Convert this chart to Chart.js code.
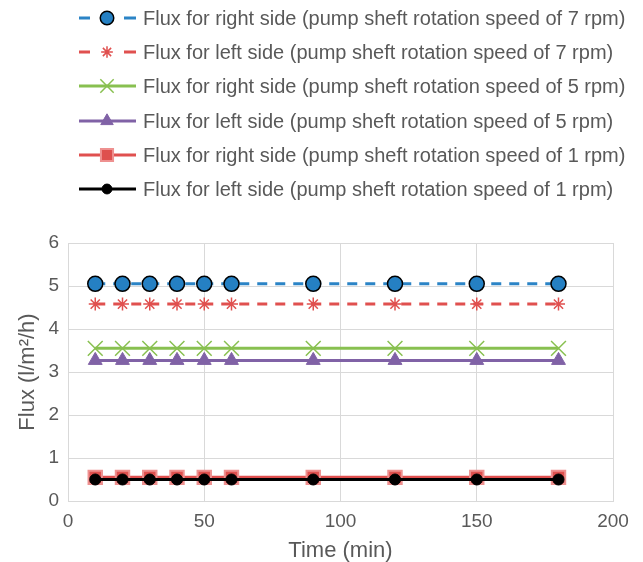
<!DOCTYPE html>
<html><head><meta charset="utf-8">
<script src="https://cdn.jsdelivr.net/npm/chart.js@4/dist/chart.umd.min.js"></script>
<style>html,body{margin:0;padding:0;background:#fff;}#wrap{width:643px;height:562px;}</style>
</head><body><div id="wrap"><canvas id="c" width="643" height="562"></canvas></div>
<script>
const timeMin = [10, 20, 30, 40, 50, 60, 90, 120, 150, 180];
const labels = [
  "Flux for right side (pump sheft rotation speed of 7 rpm)",
  "Flux for left side (pump sheft rotation speed of 7 rpm)",
  "Flux for right side (pump sheft rotation speed of 5 rpm)",
  "Flux for left side (pump sheft rotation speed of 5 rpm)",
  "Flux for right side (pump sheft rotation speed of 1 rpm)",
  "Flux for left side (pump sheft rotation speed of 1 rpm)"
];
const right7 = [5.05, 5.05, 5.05, 5.05, 5.05, 5.05, 5.05, 5.05, 5.05, 5.05];
const left7  = [4.58, 4.58, 4.58, 4.58, 4.58, 4.58, 4.58, 4.58, 4.58, 4.58];
const right5 = [3.55, 3.55, 3.55, 3.55, 3.55, 3.55, 3.55, 3.55, 3.55, 3.55];
const left5  = [3.27, 3.27, 3.27, 3.27, 3.27, 3.27, 3.27, 3.27, 3.27, 3.27];
const right1 = [0.55, 0.55, 0.55, 0.55, 0.55, 0.55, 0.55, 0.55, 0.55, 0.55];
const left1  = [0.50, 0.50, 0.50, 0.50, 0.50, 0.50, 0.50, 0.50, 0.50, 0.50];

const pts = arr => arr.map((v, i) => ({x: timeMin[i], y: v}));
const FONT = "'Liberation Sans', Arial, sans-serif";
const GREY = '#595959';

const datasets = [
  {label: labels[0], data: pts(right7), order: 5, borderColor: '#2B84C6', borderWidth: 3, borderDash: [10, 8],
   pointStyle: 'circle', pointRadius: 7.5, pointBackgroundColor: '#2580C3', pointBorderColor: '#000', pointBorderWidth: 1.5},
  {label: labels[1], data: pts(left7), order: 4, borderColor: '#E0504F', borderWidth: 3, borderDash: [10, 8],
   pointStyle: 'star', pointRadius: 6.5, pointBackgroundColor: '#E0504F', pointBorderColor: '#E0504F', pointBorderWidth: 1.5},
  {label: labels[2], data: pts(right5), order: 3, borderColor: '#88C050', borderWidth: 3,
   pointStyle: 'crossRot', pointRadius: 10.5, pointBackgroundColor: '#88C050', pointBorderColor: '#88C050', pointBorderWidth: 1.5},
  {label: labels[3], data: pts(left5), order: 2, borderColor: '#8062A6', borderWidth: 3,
   pointStyle: 'triangle', pointRadius: 8, pointBackgroundColor: '#8062A6', pointBorderColor: '#8062A6', pointBorderWidth: 1},
  {label: labels[4], data: pts(right1), order: 1, borderColor: '#E0504F', borderWidth: 3,
   pointStyle: 'rect', pointRadius: 9.5, pointBackgroundColor: '#DE504E', pointBorderColor: '#EE9190', pointBorderWidth: 2},
  {label: labels[5], data: pts(left1), order: 0, borderColor: '#000', borderWidth: 3,
   pointStyle: 'circle', pointRadius: 5.5, pointBackgroundColor: '#000', pointBorderColor: '#000', pointBorderWidth: 1}
];

const legendPlugin = {
  id: 'customLegend',
  afterDraw(chart) {
    const ctx = chart.ctx;
    const rowY = [18, 52, 86, 121, 155, 189];
    chart.data.datasets.forEach((ds, i) => {
      const y = rowY[i];
      ctx.save();
      ctx.strokeStyle = ds.borderColor;
      ctx.lineWidth = ds.borderWidth;
      ctx.beginPath();
      if (ds.borderDash) {
        ctx.moveTo(79, y); ctx.lineTo(90, y);
        ctx.moveTo(124, y); ctx.lineTo(136, y);
      } else {
        ctx.moveTo(79, y); ctx.lineTo(136, y);
      }
      ctx.stroke();
      ctx.fillStyle = ds.pointBackgroundColor;
      ctx.strokeStyle = ds.pointBorderColor;
      ctx.lineWidth = ds.pointBorderWidth;
      Chart.helpers.drawPoint(ctx, {pointStyle: ds.pointStyle, radius: ds.pointRadius * 0.9, rotation: 0, borderWidth: ds.pointBorderWidth}, 107, y);
      ctx.fillStyle = GREY;
      ctx.font = "20px " + FONT;
      ctx.textBaseline = 'middle';
      ctx.textAlign = 'left';
      ctx.fillText(ds.label, 143, y + 1);
      ctx.restore();
    });
  }
};

new Chart(document.getElementById('c'), {
  type: 'line',
  data: {datasets},
  options: {
    responsive: false,
    animation: false,
    layout: {padding: {top: 243, right: 30, left: 0, bottom: 0}},
    plugins: {legend: {display: false}, tooltip: {enabled: false}},
    scales: {
      x: {
        type: 'linear', min: 0, max: 200,
        ticks: {stepSize: 50, color: GREY, font: {size: 19, family: FONT}, padding: 9},
        grid: {color: '#D9D9D9', lineWidth: 1, drawTicks: false},
        border: {color: '#D9D9D9'},
        title: {display: true, text: 'Time (min)', color: GREY, font: {size: 22, family: FONT}, padding: {top: 0, bottom: -2}},
        afterFit: s => { s.height = 61; }
      },
      y: {
        min: 0, max: 6,
        ticks: {stepSize: 1, color: GREY, font: {size: 19, family: FONT}, padding: 9},
        grid: {color: '#D9D9D9', lineWidth: 1, drawTicks: false},
        border: {color: '#D9D9D9'},
        title: {display: true, text: 'Flux (l/m\u00B2/h)', color: GREY, font: {size: 22, family: FONT}, padding: {top: 15, bottom: 0}},
        afterFit: s => { s.width = 68; }
      }
    }
  },
  plugins: [legendPlugin]
});
</script></body></html>
